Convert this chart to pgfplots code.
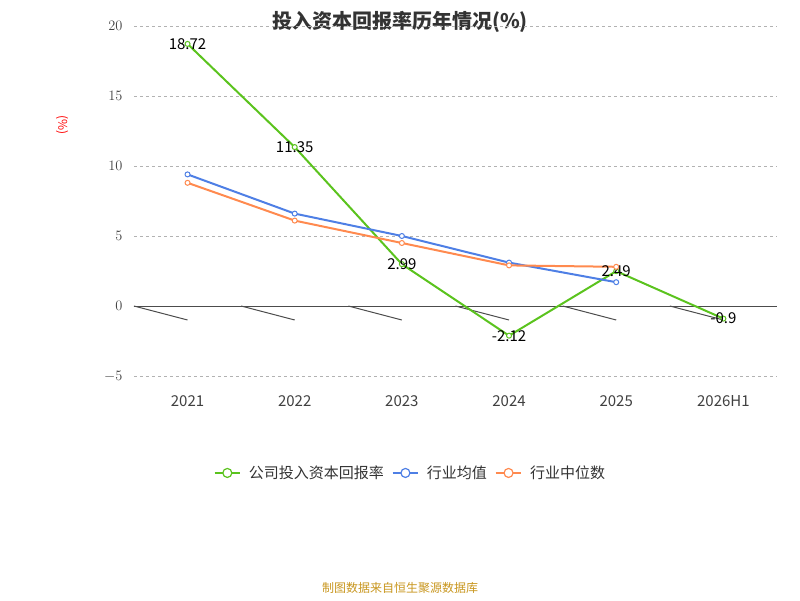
\documentclass[border=0pt]{standalone}
\usepackage{pgfplots}
\pgfplotsset{compat=1.18}
\usepackage{fontspec}
\setmainfont{Noto Sans CJK SC}
\definecolor{cg}{HTML}{5BC31E}
\definecolor{cb}{HTML}{4E7FE5}
\definecolor{co}{HTML}{FF8A4F}
\definecolor{cs}{HTML}{C8961E}
\begin{document}
\begin{tikzpicture}[x=1pt,y=1pt]
\path (0,0) rectangle (800,600);
\node[font=\bfseries\fontsize{20}{24}\selectfont,text=black!80] at (400,578) {投入资本回报率历年情况(\%)};
\node[rotate=-90,text=red,font=\fontsize{12}{14}\selectfont] at (62,475) {(\%)};
\node[text=cs,font=\fontsize{12}{14}\selectfont] at (400,12) {制图数据来自恒生聚源数据库};
\begin{axis}[at={(125,160)},anchor=south west,scale only axis,width=643,height=350,
 xmin=-0.5,xmax=5.5,ymin=-5,ymax=20,
 axis line style={draw=none},
 xtick={0,1,2,3,4,5},xticklabels={2021,2022,2023,2024,2025,2026H1},
 ytick={-5,0,5,10,15,20},
 major tick length=0pt,
 ymajorgrids,grid style={dashed,gray!60},
 tick label style={font=\fontsize{15}{18}\selectfont,text=black!75},
 xticklabel style={yshift=-16pt},
 yticklabel style={xshift=-8pt},
 legend columns=3,
 legend style={at={(0.43,-0.277)},anchor=center,draw=none,font=\fontsize{15}{18}\selectfont,column sep=6pt,text=black!80},
 legend image code/.code={\draw[#1,mark=none,line width=1.5pt] (0,0)--(0.9cm,0); \draw[#1,mark=none,fill=white,line width=1.2pt] (0.45cm,0) circle[radius=4.5pt];},
 every node near coord/.style={anchor=center,font=\fontsize{15}{18}\selectfont,text=black},
]
\draw[black!70,line width=1pt] (axis cs:-0.5,0)--(axis cs:5.5,0);
\draw[black!70,line width=1pt] (axis cs:-0.5,0)--++(0,-6);
\draw[black!70,line width=1pt] (axis cs:0.5,0)--++(0,-6);
\draw[black!70,line width=1pt] (axis cs:1.5,0)--++(0,-6);
\draw[black!70,line width=1pt] (axis cs:2.5,0)--++(0,-6);
\draw[black!70,line width=1pt] (axis cs:3.5,0)--++(0,-6);
\draw[black!70,line width=1pt] (axis cs:4.5,0)--++(0,-6);
\draw[black!70,line width=1pt] (axis cs:5.5,0)--++(0,-6);
\addplot[cg,line width=2pt,mark=*,mark options={fill=white,line width=1pt},mark size=2.5pt,nodes near coords,point meta=explicit symbolic] coordinates {(0,18.72)[18.72] (1,11.35)[11.35] (2,2.99)[2.99] (3,-2.12)[-2.12] (4,2.49)[2.49] (5,-0.9)[-0.9]};
\addlegendentry{公司投入资本回报率}
\addplot[cb,line width=2pt,mark=*,mark options={fill=white,line width=1pt},mark size=2.5pt] coordinates {(0,9.4) (1,6.6) (2,5.0) (3,3.1) (4,1.7)};
\addlegendentry{行业均值}
\addplot[co,line width=2pt,mark=*,mark options={fill=white,line width=1pt},mark size=2.5pt] coordinates {(0,8.8) (1,6.1) (2,4.5) (3,2.9) (4,2.8)};
\addlegendentry{行业中位数}
\end{axis}
\end{tikzpicture}
\end{document}
